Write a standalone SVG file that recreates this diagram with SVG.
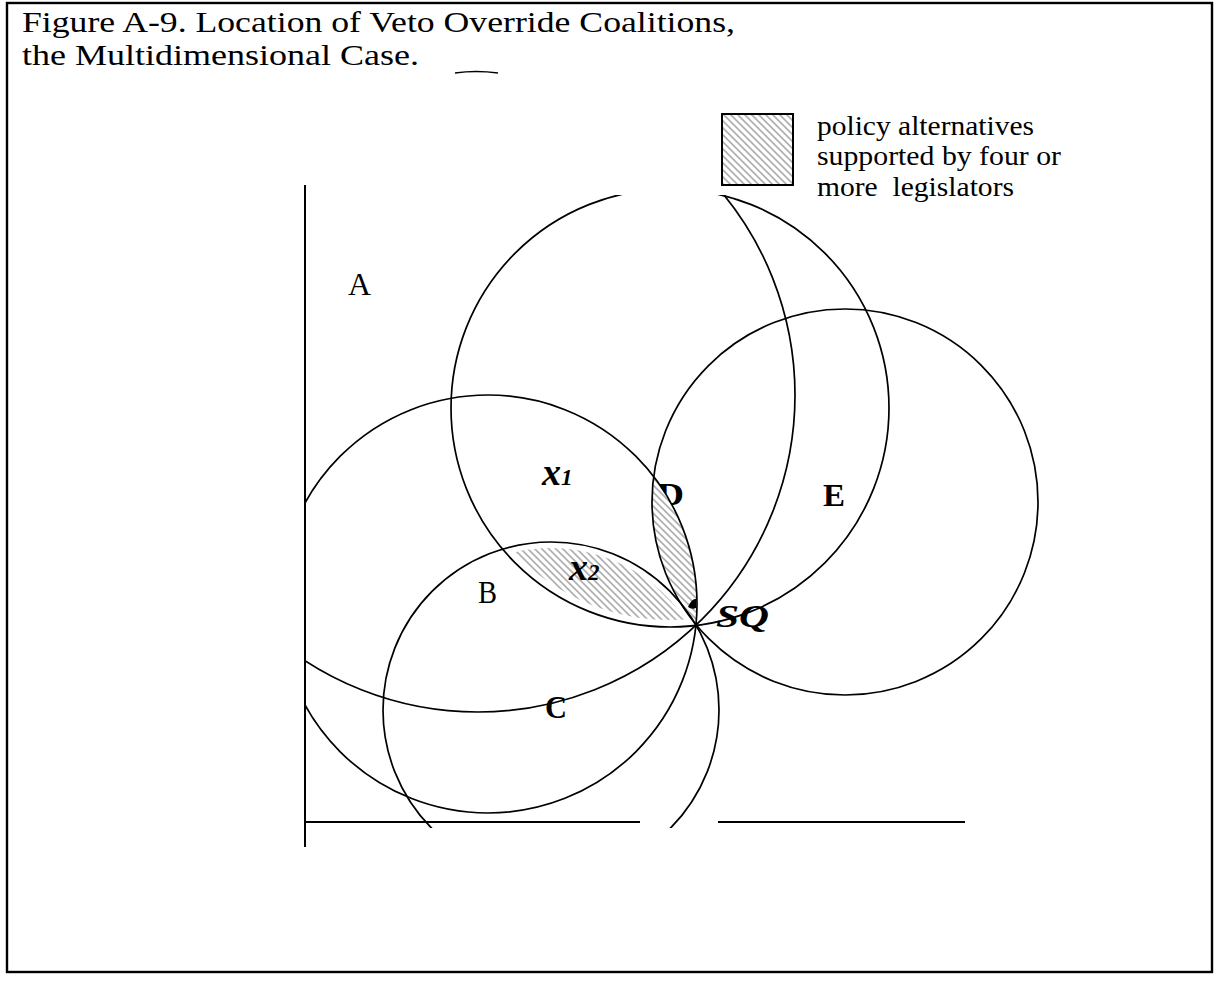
<svg xmlns="http://www.w3.org/2000/svg" width="1216" height="982" viewBox="0 0 1216 982">
<defs>
<style>
.t{font-family:"Liberation Serif","DejaVu Serif",serif;fill:#000}
.ttl{font-size:28.5px}
.leg{font-size:28px;white-space:pre}
.lbl{font-size:32px}
.b{font-weight:bold}
.bi{font-weight:bold;font-style:italic}
.circ{fill:none;stroke:#000;stroke-width:1.7}
.ax{stroke:#000;stroke-width:2;fill:none}
</style>
<pattern id="hatch" patternUnits="userSpaceOnUse" width="7" height="7">
<rect width="7" height="7" fill="#fff"/>
<path d="M-1,-1 L8,8 M-4,3 L3,10 M3,-4 L10,3" stroke="#b0b0b0" stroke-width="1.7"/>
</pattern>
<clipPath id="plot"><rect x="305" y="195" width="911" height="633"/></clipPath>
</defs>
<rect width="1216" height="982" fill="#fff"/>
<rect x="7" y="3" width="1205" height="969" fill="none" stroke="#000" stroke-width="2.4"/>

<g id="title">
<text class="t ttl" x="22" y="32" textLength="713" lengthAdjust="spacingAndGlyphs">Figure A-9. Location of Veto Override Coalitions,</text>
<text class="t ttl" x="22" y="65" textLength="397" lengthAdjust="spacingAndGlyphs">the Multidimensional Case.</text>
<path d="M455,73 Q476,70 498,73" fill="none" stroke="#000" stroke-width="1.6"/>
</g>

<g id="legend">
<rect x="722" y="114" width="71" height="71" fill="url(#hatch)" stroke="#000" stroke-width="2"/>
<text class="t leg" x="817" y="135" textLength="217" lengthAdjust="spacingAndGlyphs">policy alternatives</text>
<text class="t leg" x="817" y="165" textLength="244" lengthAdjust="spacingAndGlyphs">supported by four or</text>
<text class="t leg" x="817" y="196" textLength="197" lengthAdjust="spacingAndGlyphs">more  legislators</text>
</g>

<g id="axes">
<line class="ax" x1="305" y1="185" x2="305" y2="847"/>
<line class="ax" x1="305" y1="822" x2="640" y2="822"/>
<line class="ax" x1="718" y1="822" x2="965" y2="822"/>
</g>

<g id="label-D"><text class="t lbl b" x="657" y="505" textLength="27" lengthAdjust="spacingAndGlyphs">D</text></g>

<g id="regions">
<path id="region-D" d="M653.6,476.6 A193,193 0 0 0 696,624.6 A209,209 0 0 0 653.6,476.6 Z" fill="url(#hatch)"/>
<path id="region-x2" d="M514.5,552.2 A162,162 0 0 1 685.3,619.5 A212,212 0 0 1 514.5,552.2 Z" fill="url(#hatch)"/>
<path d="M688,607 Q692,598 696,599 L696,608 Q692,610 688,607 Z" fill="#000"/>
</g>

<g id="circles" clip-path="url(#plot)">
<g id="circle-1"><circle class="circ" cx="670" cy="408" r="219"/></g>
<g id="circle-2"><circle class="circ" cx="478" cy="395" r="317"/></g>
<g id="circle-B"><circle class="circ" cx="488" cy="604" r="209"/></g>
<g id="circle-C"><circle class="circ" cx="551" cy="710" r="168"/></g>
<g id="circle-E"><circle class="circ" cx="845" cy="502" r="193"/></g>
</g>

<g id="labels">
<g id="label-A"><text class="t lbl" x="348" y="295" textLength="23" lengthAdjust="spacingAndGlyphs">A</text></g>
<g id="label-B"><text class="t lbl" x="478" y="603" textLength="19" lengthAdjust="spacingAndGlyphs">B</text></g>
<g id="label-C"><text class="t lbl b" x="545" y="718" textLength="22" lengthAdjust="spacingAndGlyphs">C</text></g>
<g id="label-E"><text class="t lbl b" x="823" y="506" textLength="22" lengthAdjust="spacingAndGlyphs">E</text></g>
<g id="label-x1"><text class="t bi" x="542" y="485" font-size="38">x<tspan font-size="23">1</tspan></text></g>
<g id="label-x2"><text class="t bi" x="569" y="580" font-size="38">x<tspan font-size="23">2</tspan></text></g>
<g id="label-SQ"><text class="t lbl bi" x="716" y="627" font-size="34" textLength="53" lengthAdjust="spacingAndGlyphs">SQ</text></g>
</g>
</svg>
